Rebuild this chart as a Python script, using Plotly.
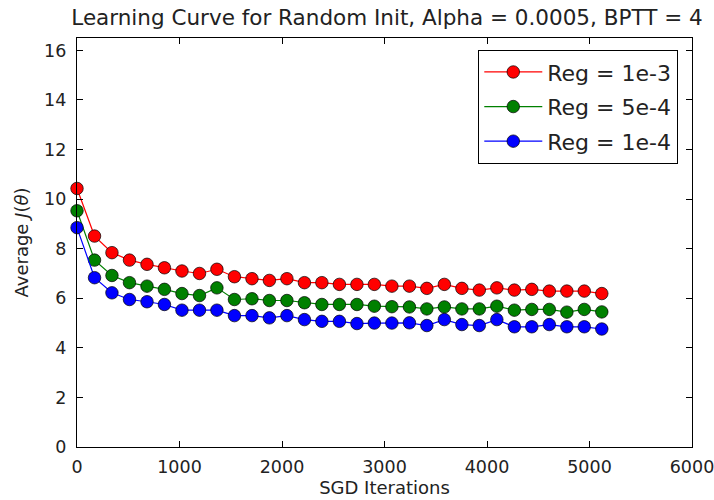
import plotly.graph_objects as go

iterations = [0, 171, 341, 512, 683, 853, 1024, 1195, 1365, 1536, 1707, 1877, 2048, 2219, 2389,
              2560, 2731, 2901, 3072, 3243, 3413, 3584, 3755, 3925, 4096, 4267, 4437, 4608, 4779, 4949, 5120]

reg_1e3 = [10.43, 8.51, 7.84, 7.54, 7.37, 7.23, 7.10, 7.00, 7.17, 6.87, 6.79, 6.72, 6.79, 6.63, 6.63,
           6.56, 6.56, 6.56, 6.49, 6.49, 6.40, 6.56, 6.40, 6.33, 6.42, 6.33, 6.36, 6.29, 6.29, 6.29, 6.19]
reg_5e4 = [9.53, 7.54, 6.92, 6.63, 6.49, 6.36, 6.19, 6.11, 6.42, 5.95, 5.98, 5.91, 5.91, 5.82, 5.75,
           5.75, 5.75, 5.68, 5.66, 5.65, 5.57, 5.65, 5.57, 5.57, 5.68, 5.52, 5.55, 5.55, 5.44, 5.55, 5.45]
reg_1e4 = [8.85, 6.83, 6.22, 5.95, 5.86, 5.75, 5.52, 5.52, 5.52, 5.30, 5.30, 5.21, 5.30, 5.14, 5.07,
           5.07, 4.98, 5.00, 5.00, 5.01, 4.90, 5.14, 4.94, 4.90, 5.14, 4.85, 4.85, 4.94, 4.85, 4.85, 4.76]

series = [("Reg = 1e-3", reg_1e3, "#ff0000"),
          ("Reg = 5e-4", reg_5e4, "#008000"),
          ("Reg = 1e-4", reg_1e4, "#0000ff")]

fig = go.Figure()
for i, (name, vals, col) in enumerate(series):
    fig.add_trace(go.Scatter(
        x=iterations, y=vals, name=name, mode="lines+markers", legendgroup=f"g{i}",
        line=dict(color=col, width=1.2),
        marker=dict(color=col, size=12.5, line=dict(color="rgba(0,0,0,0.7)", width=1)),
        cliponaxis=False,
    ))

font = "DejaVu Sans, Arial, sans-serif"
axis_common = dict(
    showgrid=False, zeroline=False, showline=True, linecolor="black", linewidth=1.3,
    mirror="ticks", ticks="inside", ticklen=6, tickcolor="black", automargin=False,
    ticklabeloverflow="allow",
    tickfont=dict(family=font, size=17.5, color="#222"),
)
fig.update_layout(
    width=714, height=500,
    margin=dict(l=77, r=22, t=38, b=53),
    paper_bgcolor="white", plot_bgcolor="white",
    title=dict(text="Learning Curve for Random Init, Alpha = 0.0005, BPTT = 4",
               font=dict(family=font, size=21.5, color="#222"),
               x=0.542, xanchor="center", y=0.965, yanchor="middle"),
    xaxis=dict(range=[0, 6000], tickvals=[0, 1000, 2000, 3000, 4000, 5000, 6000],
               ticklabelstandoff=4,
               title=dict(text="SGD Iterations", font=dict(family=font, size=18, color="#222"), standoff=4),
               **axis_common),
    yaxis=dict(range=[0, 16.5], tickvals=[0, 2, 4, 6, 8, 10, 12, 14, 16],
               ticklabelstandoff=6,
               title=dict(text="Average <i>J</i>(<i>θ</i>)", font=dict(family=font, size=18, color="#222"), standoff=10),
               **axis_common),
    legend=dict(x=0.652, y=0.971, xanchor="left", yanchor="top",
                bordercolor="black", borderwidth=1.3, bgcolor="white",
                font=dict(family=font, size=22, color="#222"),
                itemwidth=58, tracegroupgap=3),
    showlegend=True,
)

fig.write_html("out.html", config={"displayModeBar": False},
               post_script="document.body.style.margin='0';document.body.style.overflow='hidden';")
